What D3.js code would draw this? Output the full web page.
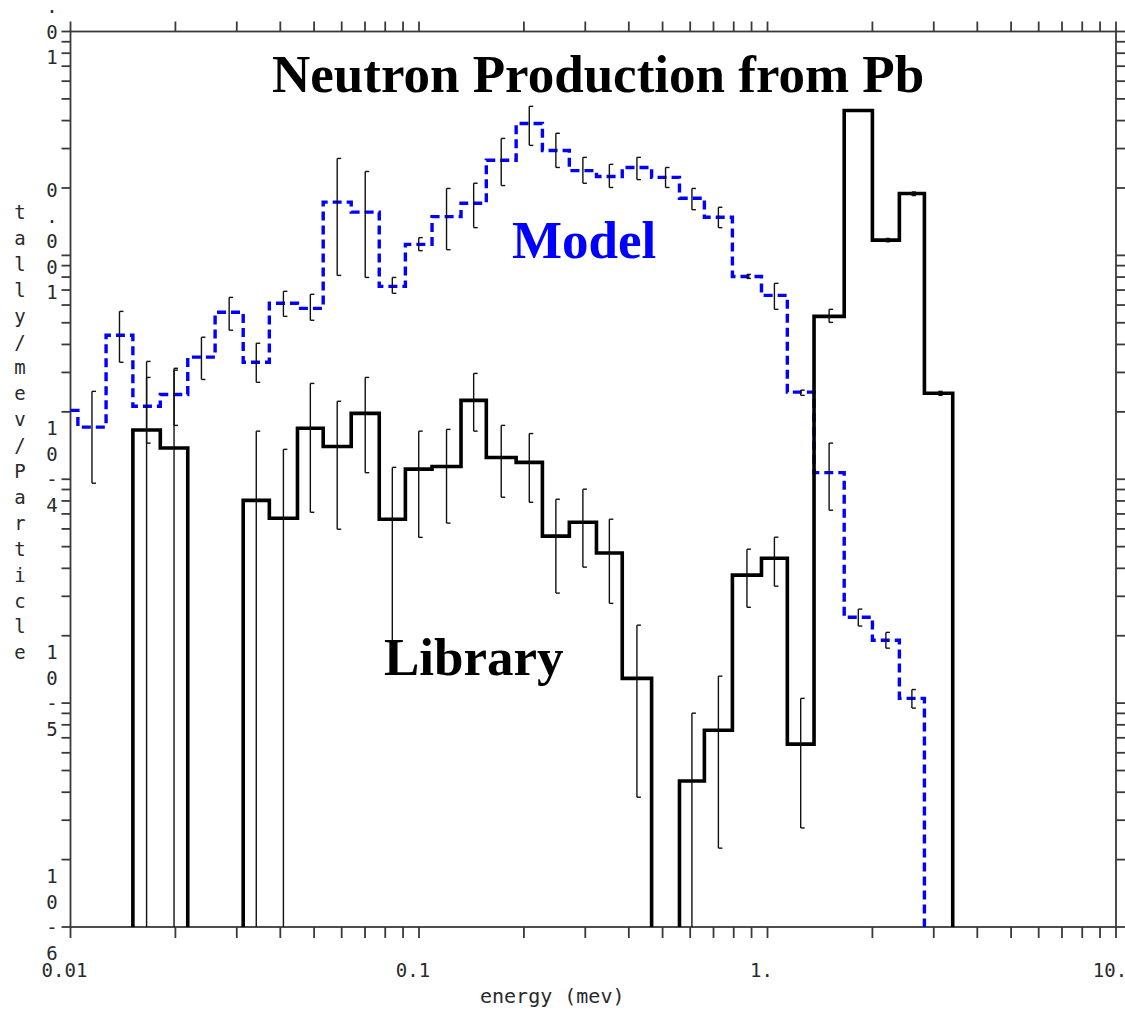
<!DOCTYPE html>
<html>
<head>
<meta charset="utf-8">
<script src="https://cdn.jsdelivr.net/npm/d3@7/dist/d3.min.js"></script>
<style>
  html, body { margin: 0; padding: 0; background: #ffffff; }
  svg { display: block; }
</style>
</head>
<body>
<script>
// Energy bin edges (MeV), shared by both tallies
const binEdges = [0.0100, 0.0105, 0.01265, 0.0151, 0.0181, 0.0217, 0.0260, 0.0313, 0.0372,
  0.0448, 0.0531, 0.0639, 0.0769, 0.0914, 0.109, 0.132, 0.156, 0.190, 0.226, 0.270,
  0.323, 0.383, 0.465, 0.559, 0.659, 0.793, 0.961, 1.14, 1.36, 1.66, 2.00, 2.39, 2.82, 3.40];

// Model tally (tally/MeV/particle) and its error bar limits
const modelValues = [2.03e-4, 1.71e-4, 4.40e-4, 2.12e-4, 2.39e-4, 3.51e-4, 5.57e-4, 3.33e-4,
  6.11e-4, 5.80e-4, 1.73e-3, 1.56e-3, 7.27e-4, 1.12e-3, 1.49e-3, 1.71e-3, 2.66e-3, 3.88e-3,
  2.94e-3, 2.39e-3, 2.25e-3, 2.47e-3, 2.23e-3, 1.80e-3, 1.48e-3, 8.05e-4, 6.63e-4, 2.45e-4,
  1.07e-4, 2.42e-5, 1.91e-5, 1.05e-5, 0];
const modelHigh = [null, 2.47e-4, 5.62e-4, 2.85e-4, 3.07e-4, 4.31e-4, 6.49e-4, 4.05e-4,
  6.91e-4, 6.70e-4, 2.71e-3, 2.37e-3, 7.97e-4, 1.20e-3, 1.99e-3, 2.10e-3, 3.33e-3, 4.63e-3,
  3.51e-3, 2.74e-3, 2.55e-3, 2.74e-3, 2.47e-3, 1.99e-3, 1.64e-3, 8.22e-4, 7.50e-4, 2.50e-4,
  1.45e-4, 2.63e-5, 2.07e-5, 1.15e-5, null];
const modelLow = [null, 9.6e-5, 3.33e-4, 1.45e-4, 1.74e-4, 2.79e-4, 4.63e-4, 2.71e-4,
  5.34e-4, 5.13e-4, 8.14e-4, 7.97e-4, 6.77e-4, 1.05e-3, 1.06e-3, 1.33e-3, 2.05e-3, 3.10e-3,
  2.47e-3, 2.10e-3, 2.01e-3, 2.18e-3, 2.01e-3, 1.60e-3, 1.33e-3, 7.89e-4, 5.74e-4, 2.37e-4,
  7.27e-5, 2.21e-5, 1.76e-5, 9.5e-6, null];

// Library tally and its error bar limits (0 = bar reaches the bottom of the plot)
const libraryValues = [0, 0, 0, 1.66e-4, 1.38e-4, 0, 0, 8.05e-5, 6.70e-5, 1.69e-4, 1.40e-4,
  1.97e-4, 6.63e-5, 1.11e-4, 1.14e-4, 2.25e-4, 1.25e-4, 1.19e-4, 5.57e-5, 6.43e-5, 4.68e-5,
  1.29e-5, 0, 4.49e-6, 7.57e-6, 3.73e-5, 4.44e-5, 6.56e-6, 5.34e-4, 4.44e-3, 1.17e-3,
  1.89e-3, 2.42e-4];
const libraryHigh = [null, null, null, 3.36e-4, 3.13e-4, null, null, 1.64e-4, 1.36e-4,
  2.68e-4, 2.23e-4, 2.85e-4, 1.13e-4, 1.64e-4, 1.67e-4, 2.97e-4, 1.74e-4, 1.60e-4, 8.14e-5,
  9.03e-5, 6.63e-5, 2.23e-5, null, 9.02e-6, 1.32e-5, 4.87e-5, 5.51e-5, 1.05e-5, 5.74e-4,
  null, 1.19e-3, 1.92e-3, 2.47e-4];
const libraryLow = [null, null, null, 0, 0, null, null, 0, 0, 7.12e-5, 5.98e-5, 1.07e-4,
  1.56e-5, 5.5e-5, 6.37e-5, 1.64e-4, 8.31e-5, 7.89e-5, 3.10e-5, 4.05e-5, 2.79e-5, 3.80e-6,
  null, 0, 2.25e-6, 2.68e-5, 3.33e-5, 2.77e-6, 5.02e-4, null, 1.15e-3, 1.85e-3, 2.37e-4];

// Axis tick labels
const xTickValues = [0.01, 0.1, 1, 10];
const xTickLabels = ["0.01", "0.1", "1.", "10."];
const yTickValues = [1e-2, 1e-3, 1e-4, 1e-5, 1e-6];
const yTickLabels = ["0.01", "0.001", "10-4", "10-5", "10-6"];

const titleText = "Neutron Production from Pb";
const xAxisTitle = "energy (mev)";
const yAxisTitle = "tally/mev/Particle";

const W = 1125, H = 1011;
const svg = d3.select("body").append("svg").attr("width", W).attr("height", H);

const x = d3.scaleLog().domain([0.01, 10]).range([70.5, 1116]);
const y = d3.scaleLog().domain([1e-6, 1e-2]).range([927, 31.5]);
const x0 = x.range()[0], x1 = x.range()[1];
const yBottom = y.range()[0], yTop = y.range()[1];
const yPos = v => (v > 0 ? y(v) : yBottom);

const axisColor = "#3a3a3a";
const monoFont = "'DejaVu Sans Mono', 'Liberation Mono', monospace";
const serifFont = "'Liberation Serif', 'Times New Roman', serif";

// ---- frame and ticks ----
const frame = svg.append("g").attr("stroke", axisColor).attr("stroke-width", 1.8).attr("fill", "none");
frame.append("rect").attr("x", x0).attr("y", yTop).attr("width", x1 - x0).attr("height", yBottom - yTop);

const xTicks = [];
[0.01, 0.1, 1].forEach(d => { for (let k = 1; k <= 9; k++) xTicks.push(d * k); });
xTicks.push(10);
const yTicks = [];
[1e-6, 1e-5, 1e-4, 1e-3].forEach(d => { for (let k = 1; k <= 9; k++) yTicks.push(d * k); });
yTicks.push(1e-2);

const tickG = svg.append("g").attr("stroke", axisColor).attr("stroke-width", 1.8);
xTicks.forEach(v => {
  const px = x(v);
  tickG.append("line").attr("x1", px).attr("x2", px).attr("y1", yBottom).attr("y2", yBottom + 11);
  tickG.append("line").attr("x1", px).attr("x2", px).attr("y1", yTop).attr("y2", yTop - 10);
});
yTicks.forEach(v => {
  const py = y(v);
  tickG.append("line").attr("x1", x0).attr("x2", x0 - 9).attr("y1", py).attr("y2", py);
  tickG.append("line").attr("x1", x1).attr("x2", x1 + 9).attr("y1", py).attr("y2", py);
});

// x tick labels
svg.append("g").selectAll("text").data(xTickValues).join("text")
  .attr("x", d => x(d) - 6).attr("y", 977)
  .attr("text-anchor", "middle")
  .attr("font-family", monoFont).attr("font-size", 19).attr("fill", "#2a2a2a")
  .text((d, i) => xTickLabels[i]);

// y tick labels: characters stacked vertically beside each decade tick
const charStep = 25.5;
yTickValues.forEach((v, i) => {
  const label = yTickLabels[i];
  const start = y(v) - 51 - (label.length - 4) * 14;
  label.split("").forEach((ch, j) => {
    svg.append("text")
      .attr("x", 52).attr("y", start + j * charStep)
      .attr("text-anchor", "middle").attr("dominant-baseline", "central")
      .attr("font-family", monoFont).attr("font-size", 19).attr("fill", "#2a2a2a")
      .text(ch);
  });
});

// axis titles
svg.append("text").attr("x", 480).attr("y", 1003)
  .attr("font-family", monoFont).attr("font-size", 20).attr("fill", "#2a2a2a")
  .text(xAxisTitle);
yAxisTitle.split("").forEach((ch, j) => {
  svg.append("text")
    .attr("x", 20).attr("y", 212 + j * 25.9)
    .attr("text-anchor", "middle").attr("dominant-baseline", "central")
    .attr("font-family", monoFont).attr("font-size", 19).attr("fill", "#2a2a2a")
    .text(ch);
});

// ---- histogram outlines ----
// Each run of non-zero bins becomes one step path; empty bins sit on the baseline.
function stepRuns(values) {
  const runs = [];
  let cur = null;
  values.forEach((v, i) => {
    if (v > 0) {
      if (!cur) {
        cur = [];
        if (i > 0) cur.push([binEdges[i], 0]);
      }
      cur.push([binEdges[i], v], [binEdges[i + 1], v]);
    } else if (cur) {
      cur.push([binEdges[i], 0]);
      runs.push(cur);
      cur = null;
    }
  });
  if (cur) {
    cur.push([binEdges[values.length], 0]);
    runs.push(cur);
  }
  return runs;
}
const stepLine = d3.line().x(d => x(d[0])).y(d => yPos(d[1]));

svg.append("g").selectAll("path").data(stepRuns(modelValues)).join("path")
  .attr("d", stepLine)
  .attr("fill", "none").attr("stroke", "#0000ff").attr("stroke-width", 3.4)
  .attr("stroke-dasharray", "9,5").attr("stroke-linejoin", "miter");

svg.append("g").selectAll("path").data(stepRuns(libraryValues)).join("path")
  .attr("d", stepLine)
  .attr("fill", "none").attr("stroke", "#000000").attr("stroke-width", 3.6)
  .attr("stroke-linejoin", "miter");

// ---- error bars at bin centres ----
function errorBars(values, lows, highs) {
  const g = svg.append("g").attr("stroke", "#111").attr("stroke-width", 1.4).attr("fill", "none");
  values.forEach((v, i) => {
    if (highs[i] == null) return;
    const cx = (x(binEdges[i]) + x(binEdges[i + 1])) / 2;
    const yh = yPos(highs[i]);
    const yl = lows[i] > 0 ? yPos(lows[i]) : yBottom;
    g.append("line").attr("x1", cx).attr("x2", cx).attr("y1", yh).attr("y2", yl);
    g.append("line").attr("x1", cx).attr("x2", cx + 4).attr("y1", yh).attr("y2", yh);
    if (lows[i] > 0) g.append("line").attr("x1", cx).attr("x2", cx + 4).attr("y1", yl).attr("y2", yl);
  });
}
errorBars(modelValues, modelLow, modelHigh);
errorBars(libraryValues, libraryLow, libraryHigh);

// ---- annotations ----
svg.append("text").attr("x", 272).attr("y", 92)
  .attr("font-family", serifFont).attr("font-weight", "bold").attr("font-size", 53)
  .attr("fill", "#000").text(titleText);
svg.append("text").attr("x", 512).attr("y", 258)
  .attr("font-family", serifFont).attr("font-weight", "bold").attr("font-size", 53)
  .attr("fill", "#0000ff").text("Model");
svg.append("text").attr("x", 384).attr("y", 675)
  .attr("font-family", serifFont).attr("font-weight", "bold").attr("font-size", 53)
  .attr("fill", "#000").text("Library");
</script>
</body>
</html>
